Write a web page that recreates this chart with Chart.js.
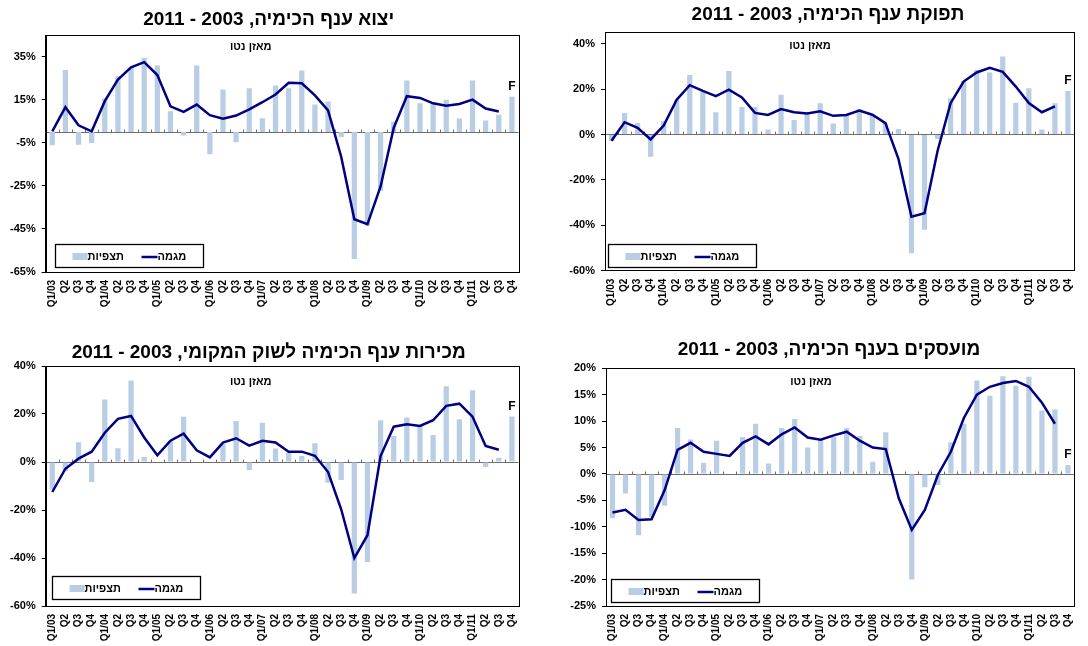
<!DOCTYPE html>
<html>
<head>
<meta charset="utf-8">
<script src="https://cdn.jsdelivr.net/npm/chart.js@4.4.1/dist/chart.umd.min.js"></script>
<style>
  html, body { margin: 0; padding: 0; background: #fff; overflow: hidden; width: 1088px; height: 646px; }
  .panel { position: absolute; }
  .panel canvas { display: block; }
</style>
</head>
<body>
<div class="panel" id="p1" style="left:0px;top:0px;width:532px;height:320px"><canvas id="c1"></canvas></div>
<div class="panel" id="p2" style="left:545px;top:0px;width:543px;height:320px"><canvas id="c2"></canvas></div>
<div class="panel" id="p3" style="left:0px;top:330px;width:532px;height:316px"><canvas id="c3"></canvas></div>
<div class="panel" id="p4" style="left:545px;top:330px;width:543px;height:316px"><canvas id="c4"></canvas></div>
<script>
// רבעונים 2003 - 2011
const quarters = [
    'Q1/03', 'Q2', 'Q3', 'Q4', 'Q1/04', 'Q2', 'Q3', 'Q4', 'Q1/05', 'Q2', 'Q3', 'Q4',
    'Q1/06', 'Q2', 'Q3', 'Q4', 'Q1/07', 'Q2', 'Q3', 'Q4', 'Q1/08', 'Q2', 'Q3', 'Q4',
    'Q1/09', 'Q2', 'Q3', 'Q4', 'Q1/10', 'Q2', 'Q3', 'Q4', 'Q1/11', 'Q2', 'Q3', 'Q4'
];

// יצוא
const exportBars = [-6.2, 28.7, -5.9, -5.1, 15.5, 25.9, 29.8, 34.4, 30.9, 9.6, -1.7, 30.9,
    -10.4, 19.7, -4.8, 20.3, 6.4, 21.6, 20.3, 28.5, 12.7, 14.1, -2.3, -59,
    -43.5, -27.3, 4.7, 23.9, 13.3, 13.2, 15, 6.2, 23.9, 5.3, 8, 16.3];
const exportTrend = [0.3, 11.5, 3.1, 0.3, 14.3, 24.3, 30, 32.4, 26.4, 11.9, 9.3, 12.7,
    7.8, 6.2, 7.6, 10.5, 13.8, 17.4, 22.8, 22.6, 17, 10, -11.5, -40.5,
    -42.8, -25.3, 1.9, 16.6, 15.8, 13.3, 12.2, 13, 15, 10.9, 9.5];
const exportTicks = [-65, -45, -25, -5, 15, 35];

// תפוקה
const outputBars = [-2.9, 9.5, 5.1, -9.8, 5.8, 15.3, 26.2, 19, 9.8, 28, 12.1, 12.1,
    2.2, 17.5, 6.4, 9, 13.7, 4.8, 8.7, 11.2, 8.5, 4.8, 2.4, -52.3,
    -42, -2, 16, 23.6, 28.4, 27.3, 34.3, 14, 20.4, 2.2, 13.8, 19.2];
const outputTrend = [-2.8, 5.4, 2.9, -2.2, 3.9, 15.3, 21.7, 19.2, 16.9, 19.7, 16.3, 9.5,
    8.6, 11.2, 9.8, 9.2, 10.2, 8.2, 8.6, 10.5, 8.7, 5, -10.7, -36.2,
    -34.7, -7.3, 13.8, 23.3, 27.3, 29.4, 27.6, 21.1, 13.8, 9.8, 12.4];
const outputTicks = [-60, -40, -20, 0, 20, 40];

// מכירות לשוק המקומי
const localBars = [-11.4, -3.8, 8.2, -8.3, 26, 5.7, 34, 2.1, 0, 8.8, 18.9, 0,
    0, 7.4, 17.1, -3.3, 16.4, 5.6, 3.9, 2.5, 7.8, -8.6, -7.5, -54.8,
    -41.7, 17.4, 10.8, 18.5, 15, 11.3, 31.6, 17.8, 29.9, -2.1, 1.8, 19];
const localTrend = [-12.5, -2.8, 1.4, 4.3, 12.2, 18, 19.2, 10.2, 2.8, 8.9, 11.8, 4.9,
    1.9, 8.1, 9.9, 6.8, 8.8, 8.1, 4.3, 4.3, 2.6, -4.2, -19.7, -40,
    -30.5, 2.5, 14.7, 15.7, 15, 17.4, 23.4, 24.3, 18.9, 6.7, 5.1];
const localTicks = [-60, -40, -20, 0, 20, 40];

// מועסקים
const employBars = [-8.4, -3.7, -11.6, -8.2, -6, 8.7, 6.5, 2.1, 6.3, 0, 7, 9.5,
    2, 8.7, 10.4, 5, 6.5, 7, 8.7, 7.2, 2.3, 7.9, 0, -20,
    -2.5, -2.1, 6, 9.5, 17.7, 14.8, 18.5, 16.7, 18.4, 12, 12.2, 1.7];
const employTrend = [-7.3, -6.8, -8.7, -8.6, -3.1, 4.55, 5.9, 4.2, 3.8, 3.4, 5.9, 7.1,
    5.6, 7.5, 8.8, 6.9, 6.5, 7.3, 8, 6.3, 5, 4.7, -4.6, -10.6,
    -6.8, -0.2, 4.2, 10.6, 15, 16.5, 17.2, 17.6, 16.5, 13.5, 9.5];
const employTicks = [-25, -20, -15, -10, -5, 0, 5, 10, 15, 20];

const barColor = '#b9cde5';
const lineColor = '#000080';
const fontFamily = '"Liberation Sans", Arial, sans-serif';
const subTitle = 'מאזן נטו';
const barLabel = 'תצפיות';
const lineLabel = 'מגמה';

Chart.defaults.font.family = fontFamily;
Chart.defaults.color = '#000';

// מסגרת, קו אפס, כותרות ומקרא
const panelDecor = {
    id: 'panelDecor',
    beforeDatasetsDraw(chart) {
        const a = chart.chartArea;
        const ctx = chart.ctx;
        const y0 = Math.round(chart.scales.y.getPixelForValue(0)) + 0.5;
        const n = chart.data.labels.length;
        const w = (a.right - a.left) / n;
        ctx.save();
        ctx.strokeStyle = '#6e6e6e';
        ctx.lineWidth = 1;
        ctx.beginPath();
        ctx.moveTo(a.left, y0);
        ctx.lineTo(a.right, y0);
        for (let k = 1; k < n; k++) {
            const x = Math.round(a.left + k * w) + 0.5;
            ctx.moveTo(x, y0);
            ctx.lineTo(x, y0 - 3);
        }
        ctx.stroke();
        ctx.restore();
    },
    afterDraw(chart, args, opts) {
        const a = chart.chartArea;
        const ctx = chart.ctx;
        ctx.save();
        // מסגרת
        ctx.strokeStyle = '#000';
        ctx.lineWidth = 1;
        ctx.strokeRect(Math.round(a.left) + 0.5, Math.round(a.top) + 0.5,
            Math.round(a.right - a.left), Math.round(a.bottom - a.top));

        ctx.fillStyle = '#000';
        ctx.direction = 'rtl';
        ctx.textBaseline = 'middle';

        // כותרת
        ctx.font = 'bold 19px ' + fontFamily;
        ctx.textAlign = 'center';
        ctx.fillText(opts.title, a.left + 223, opts.titleY);

        // מאזן נטו
        ctx.font = 'bold 11px ' + fontFamily;
        ctx.fillText(subTitle, a.left + 205, a.top + opts.noteDy);

        // F מעל העמודה האחרונה
        const bars = chart.getDatasetMeta(0).data;
        const last = bars[bars.length - 1];
        ctx.direction = 'ltr';
        ctx.font = 'bold 12px ' + fontFamily;
        ctx.fillText('F', last.x, Math.min(last.y, last.base) - 10);

        // מקרא
        const bw = 148, bh = 23;
        const bx = Math.round(a.left + opts.legendDx) + 0.5;
        const by = Math.round(a.bottom - opts.legendDy - bh) + 0.5;
        ctx.fillStyle = '#fff';
        ctx.fillRect(bx, by, bw, bh);
        ctx.strokeStyle = '#000';
        ctx.lineWidth = 1.3;
        ctx.strokeRect(bx, by, bw, bh);
        const cy = by + bh / 2 + 1;
        ctx.fillStyle = barColor;
        ctx.fillRect(bx + 17, cy - 4, 15, 7);
        ctx.strokeStyle = lineColor;
        ctx.lineWidth = 2.5;
        ctx.beginPath();
        ctx.moveTo(bx + 86, cy);
        ctx.lineTo(bx + 102, cy);
        ctx.stroke();
        ctx.fillStyle = '#000';
        ctx.font = 'bold 11px ' + fontFamily;
        ctx.textAlign = 'left';
        ctx.direction = 'rtl';
        ctx.fillText(barLabel, bx + 32, cy);
        ctx.fillText(lineLabel, bx + 102, cy);
        ctx.restore();
    }
};

function makeChart(canvasId, bars, trend, tickValues, cfg) {
    const ctx = document.getElementById(canvasId).getContext('2d');
    return new Chart(ctx, {
        type: 'bar',
        data: {
            labels: quarters,
            datasets: [{
                type: 'bar',
                label: barLabel,
                data: bars,
                backgroundColor: barColor,
                borderWidth: 0,
                categoryPercentage: 1,
                barPercentage: 0.4,
                order: 2
            }, {
                type: 'line',
                label: lineLabel,
                data: trend,
                borderColor: lineColor,
                borderWidth: 2.5,
                pointRadius: 0,
                tension: 0,
                fill: false,
                order: 1
            }]
        },
        options: {
            responsive: true,
            maintainAspectRatio: false,
            animation: false,
            events: [],
            layout: { padding: { top: cfg.top, right: cfg.right, left: 0, bottom: 0 } },
            plugins: {
                legend: { display: false },
                tooltip: { enabled: false },
                title: { display: false },
                panelDecor: cfg
            },
            scales: {
                x: {
                    grid: { display: false, drawTicks: false },
                    border: { display: false },
                    ticks: {
                        autoSkip: false,
                        minRotation: 90,
                        maxRotation: 90,
                        padding: 8,
                        font: { size: 10, weight: 'bold' }
                    },
                    afterFit: (scale) => { scale.height = cfg.xHeight; }
                },
                y: {
                    min: cfg.min,
                    max: cfg.max,
                    grid: { drawOnChartArea: false, drawTicks: true, tickLength: 4, color: '#000' },
                    border: { display: true, color: '#000', width: 1 },
                    ticks: {
                        padding: 6,
                        font: { size: 11, weight: 'bold' },
                        callback: (v) => v + '%'
                    },
                    afterBuildTicks: (scale) => { scale.ticks = tickValues.map(v => ({ value: v })); },
                    afterFit: (scale) => { scale.width = cfg.yWidth; }
                }
            }
        },
        plugins: [panelDecor]
    });
}

makeChart('c1', exportBars, exportTrend, exportTicks, {
    title: 'יצוא ענף הכימיה, 2003 - 2011', titleY: 20, noteDy: 12,
    min: -65, max: 45, top: 35, right: 6.3, yWidth: 45.7, xHeight: 48,
    legendDx: 9, legendDy: 5
});
makeChart('c2', outputBars, outputTrend, outputTicks, {
    title: 'תפוקת ענף הכימיה, 2003 - 2011', titleY: 15, noteDy: 14,
    min: -60, max: 45, top: 32.3, right: 3, yWidth: 60, xHeight: 49.3,
    legendDx: 3, legendDy: 4
});
makeChart('c3', localBars, localTrend, localTicks, {
    title: 'מכירות ענף הכימיה לשוק המקומי, 2003 - 2011', titleY: 23, noteDy: 16,
    min: -60, max: 40, top: 36, right: 6.3, yWidth: 45.7, xHeight: 40,
    legendDx: 6, legendDy: 7
});
makeChart('c4', employBars, employTrend, employTicks, {
    title: 'מועסקים בענף הכימיה, 2003 - 2011', titleY: 20, noteDy: 14,
    min: -25, max: 20, top: 38.3, right: 3, yWidth: 61, xHeight: 40,
    legendDx: 5, legendDy: 4
});
</script>
</body>
</html>
